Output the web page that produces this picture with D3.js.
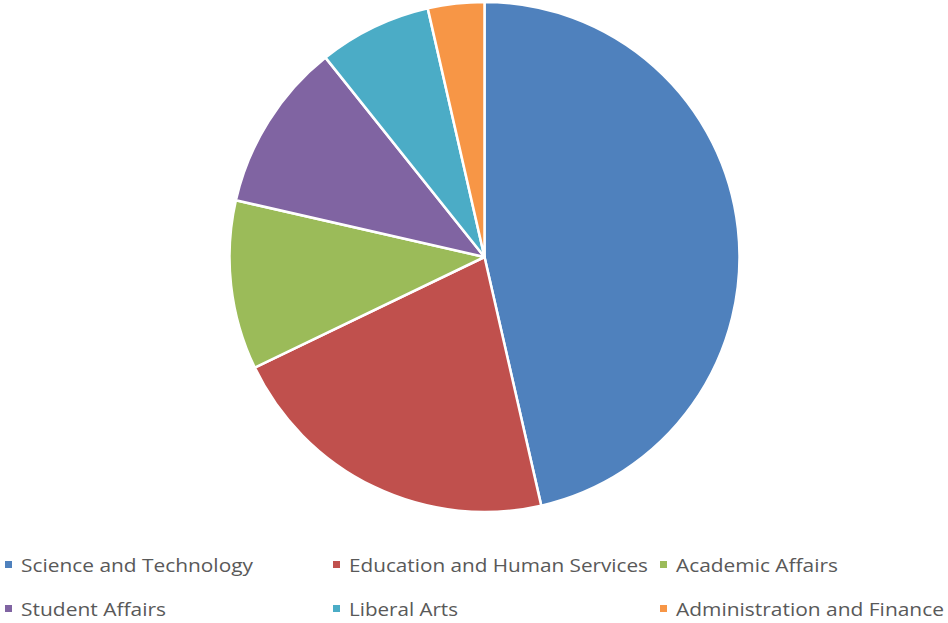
<!DOCTYPE html>
<html><head><meta charset="utf-8">
<script src="https://cdn.jsdelivr.net/npm/d3@7/dist/d3.min.js"></script>
<style>body{margin:0;background:#fff}svg{display:block}</style>
</head><body>
<svg id="c" width="948" height="623"></svg>
<script>
const categories = ["Science and Technology","Education and Human Services","Academic Affairs","Student Affairs","Liberal Arts","Administration and Finance"];
const values = [13, 6, 3, 3, 2, 1];
const colors = ["#4F81BD","#C0504D","#9BBB59","#8064A2","#4BACC6","#F79646"];
const legendWidths = [232, 299, 162, 145, 109, 268];

const svg = d3.select("#c");
const cx = 484.5, cy = 257, r = 255;
const data = categories.map((c,i)=>({name:c, value:values[i], color:colors[i], w:legendWidths[i]}));
const pie = d3.pie().value(d=>d.value).sort(null);
const arc = d3.arc().innerRadius(0).outerRadius(r);
svg.append("g").attr("transform",`translate(${cx},${cy})`)
  .selectAll("path").data(pie(data)).join("path")
  .attr("d",arc).attr("fill",d=>d.data.color)
  .attr("stroke","#fff").attr("stroke-width",2.5).attr("stroke-linejoin","round");

const colX = [5, 333, 660];
const rowY = [565, 609];
const lg = svg.append("g");
data.forEach((d,i)=>{
  const x = colX[i%3], y = rowY[Math.floor(i/3)];
  lg.append("rect").attr("x",x).attr("y",y-4).attr("width",7).attr("height",7).attr("fill",d.color);
  lg.append("text").attr("x",x+16).attr("y",y+7)
    .attr("font-family","'Open Sans', sans-serif").attr("font-size",19).attr("fill","#595959")
    .attr("textLength",d.w).attr("lengthAdjust","spacingAndGlyphs")
    .text(d.name);
});
</script>
</body></html>
